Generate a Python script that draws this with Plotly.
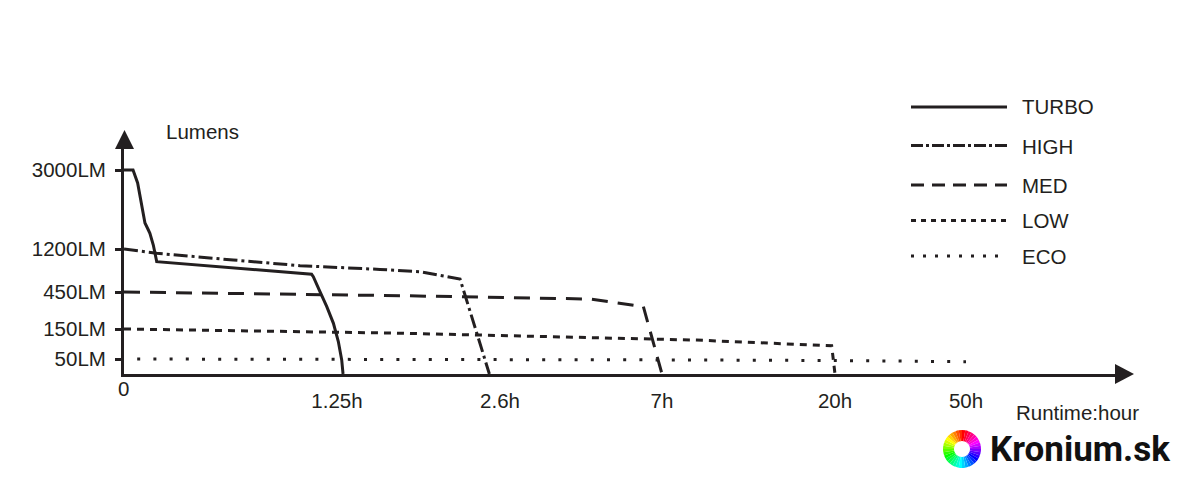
import numpy as np
import plotly.graph_objects as go

# ---------------- data ----------------
TURBO_H = [0, 0.053, 0.080, 0.103, 0.123, 0.143, 0.152, 0.172, 0.192, 1.101, 1.111, 1.150, 1.190, 1.229, 1.261, 1.289, 1.30]
TURBO_LM = [3000, 3000, 2704, 2164, 1792, 1633, 1558, 1291, 979, 759, 717, 455, 331, 196, 108, 47, 0]

HIGH_H = [0, 0.192, 0.641, 1.033, 1.606, 1.938, 2.269, 2.325, 2.408, 2.512]
HIGH_LM = [1200, 1125, 1008, 909, 844, 804, 677, 385, 136, 0]

MED_H = [0, 1.772, 5.046, 6.494, 7.0]
MED_LM = [450, 420, 393, 331, 0]

LOW_H = [0, 1.772, 9.61, 19.75, 20.0]
LOW_LM = [150, 136, 113, 94, 0]

ECO_H = [0, 2.6, 7, 20, 50]
ECO_LM = [50, 49, 47, 45, 41]

SERIES_NAMES = ["TURBO", "HIGH", "MED", "LOW", "ECO"]

X_TICK_HOURS = [1.25, 2.6, 7, 20, 50]
X_TICK_LABELS = ["1.25h", "2.6h", "7h", "20h", "50h"]
Y_TICK_LM = [50, 150, 450, 1200, 3000]
Y_TICK_LABELS = ["50LM", "150LM", "450LM", "1200LM", "3000LM"]

# ---------------- broken (piecewise) scales ----------------
X_BREAKS_H = [0, 1.25, 2.6, 7, 20, 50]
X_BREAKS_POS = [0, 213, 376, 538, 711, 842]
Y_BREAKS_LM = [0, 50, 150, 450, 1200, 3000]
Y_BREAKS_POS = [0, 15, 45, 82, 125, 204]


def sx(h):
    return np.interp(np.asarray(h, dtype=float), X_BREAKS_H, X_BREAKS_POS)


def sy(v):
    return np.interp(np.asarray(v, dtype=float), Y_BREAKS_LM, Y_BREAKS_POS)


# page body has an 8px margin; the figure is sized to fill the rest of the window
OFF = 8
W, H = 1172, 472
INK = "#231f20"
FONT = "Liberation Sans, Arial, sans-serif"
FS = 20.5


def px(x):
    return (x - OFF) / W


def py(y):
    return 1 - (y - OFF) / H


series = [
    (TURBO_H, TURBO_LM, "solid", "solid"),
    (HIGH_H, HIGH_LM, "14px,4px,3px,4px", "12px,3px,3px,3px"),
    (MED_H, MED_LM, "16px,10px", "13px,8px"),
    (LOW_H, LOW_LM, "7px,6px", "5px,5px"),
    (ECO_H, ECO_LM, "0px,13.2px,3px,0px", "3px,9px"),
]

fig = go.Figure()
for (hx, ly, dash, _), name in zip(series, SERIES_NAMES):
    fig.add_trace(go.Scatter(
        x=sx(hx), y=sy(ly), mode="lines", name=name,
        line=dict(color=INK, width=3, dash=dash),
        showlegend=False, hoverinfo="skip",
    ))

# logo ring
LOGO_HUES = [(360 - i * 10) % 360 for i in range(36)]
fig.add_trace(go.Pie(
    values=[1] * len(LOGO_HUES), sort=False, direction="clockwise", rotation=0,
    hole=0.42, textinfo="none", hoverinfo="skip", showlegend=False,
    marker=dict(colors=[f"hsl({h},100%,50%)" for h in LOGO_HUES], line=dict(width=0)),
    domain=dict(x=[px(943), px(981)], y=[py(468), py(430)]),
))

X0, X1 = 124, 1116
Y0, Y1 = 374, 148

fig.update_layout(
    width=W, height=H,
    margin=dict(l=0, r=0, t=0, b=0),
    paper_bgcolor="white", plot_bgcolor="white",
    font=dict(family=FONT, color=INK, size=FS),
    xaxis=dict(
        domain=[px(X0), px(X1)], range=[0, X1 - X0],
        showgrid=False, zeroline=False, showline=True, linewidth=3, linecolor=INK,
        tickvals=list(sx(X_TICK_HOURS)), ticktext=X_TICK_LABELS, ticks="",
        ticklabelstandoff=6, automargin=False,
        tickfont=dict(family=FONT, size=FS, color=INK),
    ),
    yaxis=dict(
        domain=[py(Y0), py(Y1)], range=[0, Y0 - Y1],
        showgrid=False, zeroline=False, showline=True, linewidth=3, linecolor=INK,
        tickvals=list(sy(Y_TICK_LM)), ticktext=Y_TICK_LABELS,
        ticks="outside", ticklen=6, tickwidth=3, tickcolor=INK,
        ticklabelstandoff=5, automargin=False,
        tickfont=dict(family=FONT, size=FS, color=INK),
    ),
)

shapes = []
# arrow heads
shapes.append(dict(type="path", xref="paper", yref="paper",
                   path=f"M {px(115)} {py(149)} L {px(124.5)} {py(130)} L {px(134)} {py(149)} Z",
                   fillcolor=INK, line=dict(width=0)))
shapes.append(dict(type="path", xref="paper", yref="paper",
                   path=f"M {px(1115)} {py(364)} L {px(1134)} {py(374)} L {px(1115)} {py(384)} Z",
                   fillcolor=INK, line=dict(width=0)))

# custom legend
LEG_Y = [107, 145.5, 185, 220.5, 256]
LEG_TEXT_Y = [106, 146.5, 185.5, 220.5, 256]
annotations = []
for (hx, ly, _, ldash), name, yl, yt in zip(series, SERIES_NAMES, LEG_Y, LEG_TEXT_Y):
    shapes.append(dict(type="line", xref="paper", yref="paper",
                       x0=px(911), x1=px(1007), y0=py(yl), y1=py(yl),
                       line=dict(color=INK, width=3, dash=ldash)))
    annotations.append(dict(xref="paper", yref="paper", x=px(1020), y=py(yt),
                            text=name, showarrow=False, xanchor="left", yanchor="middle",
                            font=dict(family=FONT, size=FS, color=INK)))

annotations += [
    dict(xref="paper", yref="paper", x=px(202), y=py(132), text="Lumens", showarrow=False,
         xanchor="center", yanchor="middle", font=dict(family=FONT, size=FS, color=INK)),
    dict(xref="paper", yref="paper", x=px(123), y=py(388), text="0", showarrow=False,
         xanchor="center", yanchor="middle", font=dict(family=FONT, size=FS, color=INK)),
    dict(xref="paper", yref="paper", x=px(1077), y=py(412), text="Runtime:hour", showarrow=False,
         xanchor="center", yanchor="middle", font=dict(family=FONT, size=FS, color=INK)),
    dict(xref="paper", yref="paper", x=px(988), y=py(449), text="Kronium.sk", showarrow=False,
         xanchor="left", yanchor="middle",
         font=dict(family="Roboto, Liberation Sans, sans-serif", size=35, color="#111111", weight=700)),
]

fig.update_layout(shapes=shapes, annotations=annotations)
fig.write_html("out.html")
